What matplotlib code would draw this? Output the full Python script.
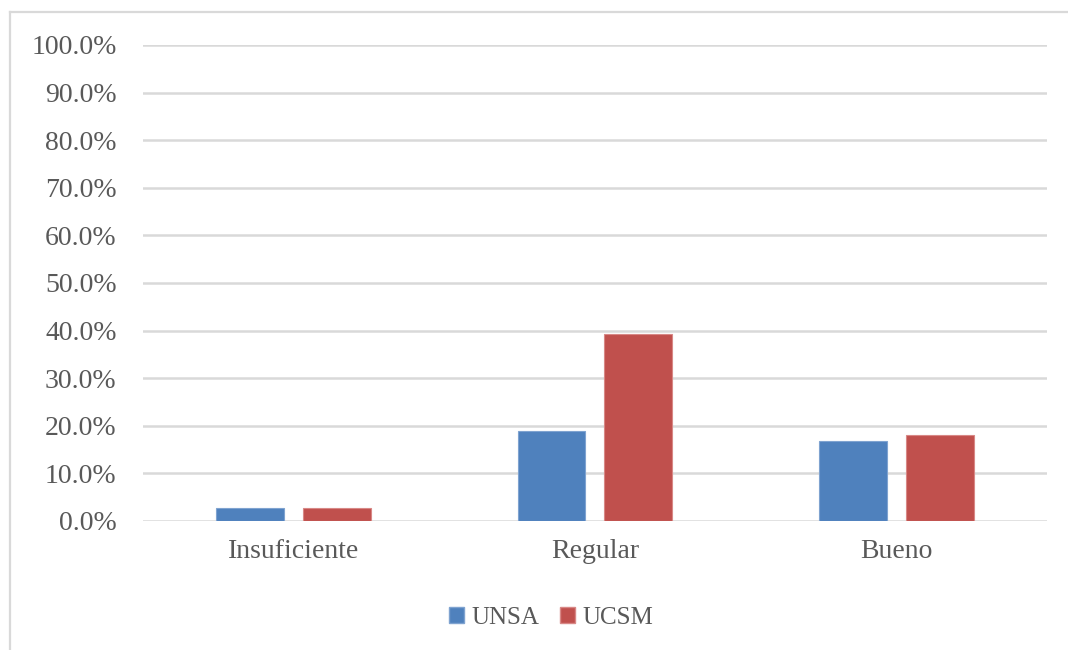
import numpy as np
import matplotlib
matplotlib.use("Agg")
import matplotlib.pyplot as plt
from matplotlib.lines import Line2D
from matplotlib.patches import Patch

categories = ["Insuficiente", "Regular", "Bueno"]
unsa = [2.8, 19.0, 16.8]
ucsm = [2.8, 39.2, 18.1]
yticks = [0, 10, 20, 30, 40, 50, 60, 70, 80, 90, 100]

blue = "#4F81BD"
red = "#C0504D"
text_col = "#595959"
grid_col = "#D9D9D9"

plt.rcParams["font.family"] = ["Liberation Serif", "DejaVu Serif"]

fig = plt.figure(figsize=(10.68, 6.5), dpi=100)
ax = fig.add_axes([0.1339, 0.1985, 0.8464, 0.7323])

x = np.arange(len(categories))
w = 0.225
off = 0.144
ax.bar(x - off, unsa, w, color=blue, edgecolor="#7FA3D0", linewidth=0.8, zorder=3)
ax.bar(x + off, ucsm, w, color=red, edgecolor="#D88886", linewidth=0.8, zorder=3)

ax.set_xlim(-0.5, 2.5)
ax.set_ylim(0, 100)
ax.set_yticks(yticks)
ax.set_yticklabels(["%.1f%%" % v for v in yticks])
ax.set_xticks(x)
ax.set_xticklabels(categories)
ax.tick_params(axis="y", length=0, pad=19, labelsize=20, labelcolor=text_col)
ax.tick_params(axis="x", length=0, pad=13, labelsize=20, labelcolor=text_col)
ax.yaxis.grid(True, color=grid_col, linewidth=1.8, zorder=0)
ax.set_axisbelow(True)
for s in ax.spines.values():
    s.set_visible(False)

handles = [Patch(facecolor=blue, edgecolor="#7FA3D0", label="UNSA"),
           Patch(facecolor=red, edgecolor="#D88886", label="UCSM")]
leg = fig.legend(handles=handles, loc="center", bbox_to_anchor=(0.516, 0.05),
                 ncol=2, frameon=False, fontsize=18, handlelength=0.6,
                 handleheight=0.6, handletextpad=0.3, columnspacing=0.8)
for t in leg.get_texts():
    t.set_color(text_col)

# outer chart frame (left and top edges)
fig.add_artist(Line2D([0.0094, 0.0094], [0.0, 0.982], transform=fig.transFigure,
                      color=grid_col, linewidth=1.6))
fig.add_artist(Line2D([0.0094, 1.0], [0.982, 0.982], transform=fig.transFigure,
                      color=grid_col, linewidth=1.6))

fig.savefig("out.png", dpi=100)
